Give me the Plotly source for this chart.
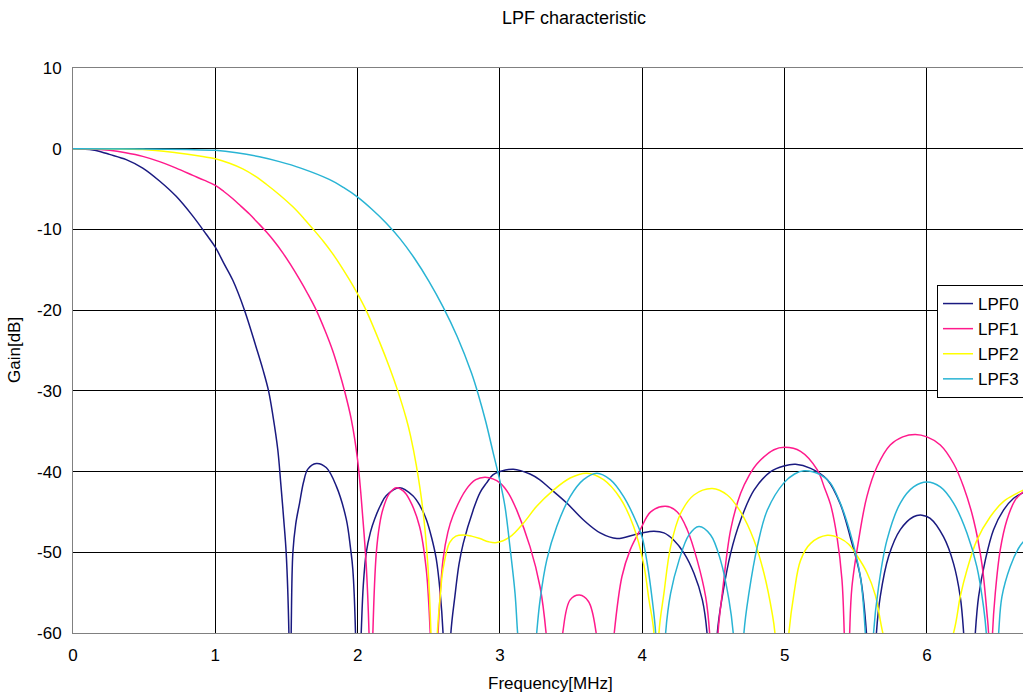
import plotly.graph_objects as go

# ---------------- data ----------------
# Frequency [MHz] / Gain [dB]; values below -60 mark nulls that fall off the chart
lpf0_f = [0, 0.14, 0.2, 0.256, 0.374, 0.49, 0.608, 0.725, 0.842, 0.936, 1.0, 1.06, 1.123, 1.205,
          1.287, 1.335, 1.374, 1.404, 1.439, 1.46, 1.48, 1.498, 1.517, 1.525, 1.533, 1.545, 1.565,
          1.592, 1.62, 1.65, 1.709, 1.779, 1.85, 1.92, 1.95, 1.966, 1.985, 1.995, 2.025, 2.04, 2.06,
          2.09, 2.119, 2.16, 2.2, 2.294, 2.388, 2.44, 2.482, 2.52, 2.552, 2.58, 2.6, 2.625, 2.655,
          2.683, 2.712, 2.742, 2.812, 2.86, 2.906, 2.95, 3.0, 3.094, 3.211, 3.278, 3.352, 3.469,
          3.587, 3.704, 3.822, 3.939, 4.0, 4.082, 4.152, 4.222, 4.293, 4.363, 4.422, 4.455, 4.49,
          4.527, 4.562, 4.621, 4.691, 4.785, 4.902, 4.995, 5.077, 5.183, 5.3, 5.391, 5.461, 5.532,
          5.575, 5.61, 5.645, 5.672, 5.731, 5.813, 5.906, 5.965, 6.023, 6.117, 6.187, 6.234, 6.258,
          6.3, 6.34, 6.363, 6.41, 6.468, 6.539, 6.609, 6.677]
lpf0_db = [0, -0.15, -0.4, -0.7, -1.35, -2.4, -4.0, -5.9, -8.35, -10.6, -12.2, -14.2, -16.3, -20.0,
           -24.6, -27.4, -30.0, -33.0, -37.3, -41.5, -45.8, -50.1, -60, -75, -60, -50, -46.5,
           -43.9, -41.3, -39.7, -39.0, -39.5, -41.8, -45.9, -49.5, -52.1, -60, -75, -60, -54, -50.1,
           -47.5, -45.9, -44.2, -43.0, -42.0, -43.0, -44.3, -45.9, -48.2, -50.8, -55, -60, -75, -60,
           -55.5, -51.5, -48.9, -44.75, -42.6, -41.4, -40.4, -40.0, -39.7, -40.3, -41.0, -42.1,
           -43.9, -46.0, -47.6, -48.3, -47.85, -47.6, -47.4, -47.6, -48.5, -50.1, -52.6, -55.9, -60,
           -75, -60, -55.5, -50.1, -46.0, -42.3, -40.0, -39.3, -39.1, -39.6, -41.0, -44.0, -48.1,
           -53.0, -60, -75, -60, -55.5, -50.5, -47.2, -45.6, -45.4, -45.8, -48.1, -51.4, -55.5, -60,
           -75, -60, -55.5, -51.0, -47.2, -44.75, -43.3, -42.6]

lpf1_f = [0, 0.12, 0.256, 0.37, 0.49, 0.608, 0.725, 0.842, 0.92, 1.0, 1.06, 1.123, 1.17, 1.24, 1.3,
          1.358, 1.415, 1.474, 1.53, 1.592, 1.65, 1.709, 1.77, 1.826, 1.87, 1.908, 1.955, 2.0,
          2.037, 2.06, 2.08, 2.095, 2.107, 2.131, 2.155, 2.177, 2.22, 2.271, 2.32, 2.365, 2.435,
          2.482, 2.51, 2.54, 2.565, 2.6, 2.634, 2.669, 2.763, 2.83, 2.894, 2.95, 3.0, 3.06, 3.117,
          3.211, 3.282, 3.324, 3.38, 3.441, 3.493, 3.559, 3.622, 3.676, 3.74, 3.803, 3.857, 3.915,
          3.986, 4.059, 4.164, 4.246, 4.316, 4.386, 4.445, 4.473, 4.5, 4.532, 4.562, 4.621, 4.691,
          4.75, 4.808, 4.925, 5.0, 5.112, 5.23, 5.28, 5.323, 5.368, 5.403, 5.419, 5.44, 5.457,
          5.473, 5.52, 5.578, 5.649, 5.742, 5.83, 5.918, 6.0, 6.094, 6.187, 6.258, 6.328, 6.386,
          6.422, 6.433, 6.447, 6.461, 6.48, 6.515, 6.562, 6.621, 6.677]
lpf1_db = [0, -0.03, -0.2, -0.5, -0.95, -1.6, -2.4, -3.3, -3.9, -4.55, -5.3, -6.2, -6.95, -8.1,
           -9.2, -10.3, -11.5, -12.9, -14.4, -16.2, -18.0, -20.0, -22.5, -25.1, -27.6, -30.0, -33.5,
           -38.6, -45.9, -51.5, -60, -75, -60, -50.1, -46.5, -44.7, -42.8, -42.0, -42.4, -43.5,
           -46.8, -52.1, -60, -75, -60, -50.9, -47.5, -45.5, -42.2, -41.0, -40.7, -40.9, -41.4,
           -42.7, -44.75, -49.3, -54.3, -60, -75, -60, -55.9, -55.3, -56.1, -60, -75, -60, -53.0,
           -49.7, -47.2, -45.0, -44.3, -45.0, -47.2, -51.0, -55.5, -60, -75, -60, -55.1, -47.2,
           -42.7, -40.5, -39.0, -37.3, -37.0, -37.5, -39.8, -42, -44.1, -48.1, -53.4, -60, -75, -60,
           -54.3, -48.5, -43.1, -39.4, -36.7, -35.7, -35.4, -35.7, -36.7, -39.0, -41.9, -46.0,
           -51.4, -57.6, -60, -75, -60, -55.1, -49.7, -46.0, -43.5, -42.5]

lpf2_f = [0, 0.49, 0.725, 0.889, 1.0, 1.1, 1.193, 1.28, 1.358, 1.45, 1.545, 1.62, 1.694, 1.76,
          1.824, 1.885, 1.941, 2.0, 2.059, 2.153, 2.224, 2.282, 2.341, 2.372, 2.412, 2.458, 2.493,
          2.515, 2.535, 2.56, 2.58, 2.6, 2.646, 2.69, 2.742, 2.8, 2.859, 2.92, 2.977, 3.07, 3.164,
          3.258, 3.376, 3.493, 3.61, 3.728, 3.845, 3.939, 4.009, 4.047, 4.082, 4.1, 4.117, 4.152,
          4.199, 4.269, 4.363, 4.492, 4.597, 4.691, 4.785, 4.855, 4.913, 4.932, 4.98, 5.03, 5.066,
          5.112, 5.183, 5.3, 5.393, 5.45, 5.508, 5.578, 5.637, 5.69, 5.9, 6.187, 6.234, 6.281,
          6.351, 6.445, 6.539, 6.632, 6.677]
lpf2_db = [0, -0.1, -0.5, -0.9, -1.25, -1.8, -2.5, -3.4, -4.4, -5.7, -7.2, -8.6, -10.1, -11.5,
           -13.0, -14.6, -16.2, -18.0, -20.0, -23.9, -27.1, -30.0, -33.4, -35.6, -39.2, -44.7,
           -51.5, -60, -75, -60, -55.5, -52.1, -48.8, -48.0, -47.85, -48.0, -48.3, -48.7, -48.8,
           -48.1, -46.4, -44.3, -42.3, -40.8, -40.2, -41.0, -43.3, -46.8, -51.4, -55.9, -60, -75,
           -60, -55.1, -49.3, -45.2, -42.9, -42.1, -42.9, -45.0, -48.5, -52.6, -57.6, -60, -75, -60,
           -55.1, -51.0, -48.9, -47.9, -48.3, -49.0, -50.4, -52.5, -55.3, -60, -75, -60, -55.5,
           -52.2, -48.5, -45.6, -43.7, -42.7, -42.3]

lpf3_f = [0, 0.5, 0.8, 1.0, 1.15, 1.31, 1.45, 1.6, 1.8, 1.9, 2.0, 2.1, 2.2, 2.3, 2.4, 2.5, 2.6, 2.7,
          2.8, 2.85, 2.9, 2.95, 3.0, 3.035, 3.07, 3.106, 3.124, 3.19, 3.258, 3.282, 3.329, 3.399,
          3.493, 3.587, 3.681, 3.775, 3.869, 3.962, 4.0, 4.035, 4.07, 4.094, 4.13, 4.164, 4.199,
          4.258, 4.328, 4.398, 4.48, 4.55, 4.609, 4.639, 4.68, 4.714, 4.749, 4.808, 4.878, 4.995,
          5.07, 5.136, 5.253, 5.321, 5.391, 5.461, 5.532, 5.567, 5.6, 5.625, 5.66, 5.719, 5.813,
          5.906, 6.0, 6.094, 6.187, 6.281, 6.351, 6.398, 6.417, 6.46, 6.504, 6.527, 6.585, 6.644,
          6.677]
lpf3_db = [0, -0.05, -0.1, -0.2, -0.5, -1.0, -1.6, -2.4, -3.8, -4.8, -6.0, -7.5, -9.2, -11.2,
           -13.6, -16.4, -19.6, -23.3, -27.8, -30.6, -33.8, -37.5, -41.2, -44.3, -49.3, -55.1, -60,
           -75, -60, -55.9, -50.95, -46.8, -43.1, -41.0, -40.2, -41.0, -43.1, -46.4, -48.2, -51.4,
           -55.9, -60, -75, -60, -55.1, -51.0, -47.85, -46.8, -47.85, -51.0, -55.9, -60, -75, -60,
           -55.1, -49.3, -44.8, -41.4, -40.3, -39.9, -40.4, -41.4, -43.9, -47.6, -53.0, -60, -75,
           -60, -54.3, -48.5, -43.9, -41.9, -41.3, -41.9, -43.9, -47.6, -51.8, -56.8, -60, -75, -60,
           -55.5, -51.8, -49.5, -48.7]

series_names = ["LPF0", "LPF1", "LPF2", "LPF3"]
series_f = [lpf0_f, lpf1_f, lpf2_f, lpf3_f]
series_db = [lpf0_db, lpf1_db, lpf2_db, lpf3_db]
series_colors = ["#1a1a80", "#ff1a8c", "#ffff00", "#29b4d4"]

x_ticks = [0, 1, 2, 3, 4, 5, 6]
y_ticks = [-60, -50, -40, -30, -20, -10, 0, 10]
y_ticktext = ["-60", "-50", "-40", "-30", "-20", "-10", "0", "10"]

FONT = "Liberation Sans, Arial, sans-serif"
FS = 17

W, H = 1023, 695
ML, MT, MB = 73, 68, 62
PW, PH = W - ML, H - MT - MB

fig = go.Figure()
for name, fx, dy, col in zip(series_names, series_f, series_db, series_colors):
    fig.add_trace(go.Scatter(x=fx, y=dy, mode="lines", name=name,
                             line=dict(color=col, width=1.5, shape="spline", smoothing=1.0)))

fig.update_layout(
    width=W, height=H,
    margin=dict(l=ML, r=0, t=MT, b=MB, autoexpand=False),
    paper_bgcolor="white", plot_bgcolor="white",
    font=dict(family=FONT, size=FS, color="black"),
    title=dict(text="LPF characteristic", x=574 / W, xref="container", xanchor="center",
               y=1 - 18 / H, yanchor="middle", font=dict(size=18, family=FONT, color="black")),
    showlegend=True,
    legend=dict(x=(937 - ML) / PW, y=1 - (285 - MT) / PH, xanchor="left", yanchor="top",
                bgcolor="white", bordercolor="black", borderwidth=1,
                font=dict(size=FS, family=FONT), tracegroupgap=0),
    xaxis=dict(range=[0, 6.675], tickvals=x_ticks, ticks="", showgrid=True, gridcolor="black",
               gridwidth=1, zeroline=False, showline=True, linecolor="#808080", linewidth=1,
               mirror=True, ticklabelstandoff=7, tickfont=dict(size=FS, family=FONT)),
    yaxis=dict(range=[-60, 10], tickvals=y_ticks, ticktext=y_ticktext, ticks="", showgrid=True,
               gridcolor="black", gridwidth=1, zeroline=False, showline=True, linecolor="#808080",
               linewidth=1, mirror=True, ticklabelstandoff=7, tickfont=dict(size=FS, family=FONT)),
    annotations=[
        dict(text="Frequency[MHz]", xref="paper", yref="paper", x=(550 - ML) / PW,
             y=(633 - 683) / PH, xanchor="center", yanchor="middle", showarrow=False,
             font=dict(size=FS, family=FONT)),
        dict(text="Gain[dB]", xref="paper", yref="paper", x=(14 - ML) / PW,
             y=(633 - 350) / PH, xanchor="center", yanchor="middle", showarrow=False,
             textangle=-90, font=dict(size=FS, family=FONT)),
    ],
)

# remove the browser's default 8px body margin so the 1023x695 figure fills the window
fig.write_html("out.html", config={"displayModeBar": False},
               post_script="document.body.style.margin='0';document.body.style.overflow='hidden';")
